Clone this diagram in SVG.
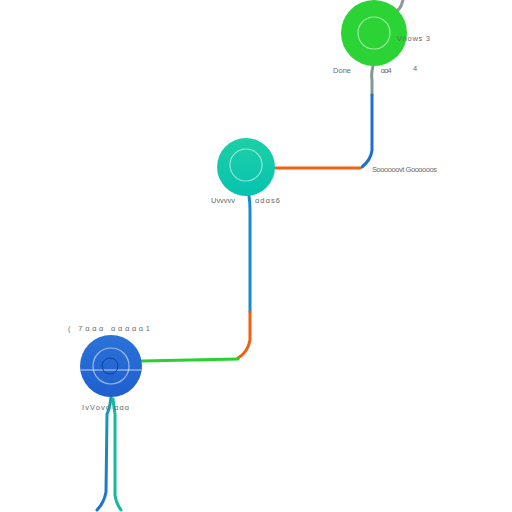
<svg xmlns="http://www.w3.org/2000/svg" width="512" height="512" viewBox="0 0 512 512">
<defs>
<style>
.lbl{font-family:"Liberation Sans",Arial,sans-serif;font-size:7.5px;fill:#6a6a6a}
.ring{fill:none;stroke:#ffffff;stroke-opacity:0.55;stroke-width:1.2}
.c{fill:none;stroke-width:3;stroke-linecap:round;stroke-linejoin:round}
</style>
<linearGradient id="gTeal" x1="0" y1="0" x2="0" y2="1"><stop offset="0" stop-color="#1ecfa6"/><stop offset="1" stop-color="#06c3b0"/></linearGradient>
<linearGradient id="gBlue" x1="0" y1="0" x2="0" y2="1"><stop offset="0" stop-color="#2a72d8"/><stop offset="1" stop-color="#1f5fcf"/></linearGradient>
<linearGradient id="gBot" x1="0" y1="0" x2="0" y2="1"><stop offset="0" stop-color="#17a0b0"/><stop offset="1" stop-color="#1e6fd0"/></linearGradient>
</defs>
<rect width="512" height="512" fill="#ffffff"/>
<g id="connectors">
<path class="c" d="M390 14 Q398 12 401 6 L403 0" stroke="#8a9a98"/>
<path class="c" d="M373 66 Q371 74 372 80 L372 95" stroke="#7f9a94"/>
<path class="c" d="M372 95 L372 150 Q371 160 362 167" stroke="#1f6fd0"/>
<path class="c" d="M360 168 L275 168" stroke="#f06010"/>
<path class="c" d="M249 196 Q250 202 250 210 L250 312" stroke="#1a8ad0"/>
<path class="c" d="M250 312 L250 340 Q248 352 238 358" stroke="#f06010"/>
<path class="c" d="M238 359 L142 361" stroke="#28d030"/>
<path class="c" d="M111 397 Q110 408 107 414 L106 492 Q104 503 97 510" stroke="url(#gBot)"/>
<path class="c" d="M113 399 Q114 408 115 414 L115 495 Q116 503 121 510" stroke="#17b8a0"/>
</g>
<g id="node-green">
<circle cx="374" cy="33" r="33" fill="#2bd335"/>
<circle class="ring" cx="374" cy="33" r="16"/>
<text class="lbl" x="333" y="73" textLength="18">Done</text>
<text class="lbl" x="380" y="73" textLength="11">ɑ͏ɑ4</text>
<text class="lbl" x="413" y="71">4</text>
<text class="lbl" x="397" y="41" textLength="33">Vnows 3</text>
</g>
<g id="node-teal">
<circle cx="246" cy="167" r="29" fill="url(#gTeal)"/>
<circle class="ring" cx="246" cy="165" r="16"/>
<text class="lbl" x="211" y="203" textLength="24">Uvvvvv</text>
<text class="lbl" x="255" y="203" textLength="25">ɑdɑs6</text>
<text class="lbl" x="372" y="172" textLength="65">Soooooovt Goooooos</text>
</g>
<g id="node-blue">
<circle cx="111" cy="366" r="31" fill="url(#gBlue)"/>
<circle class="ring" cx="111" cy="366" r="18" stroke-width="1.5"/>
<path d="M81 370 L141 370" stroke="#ffffff" stroke-opacity="0.7" stroke-width="1.2"/>
<circle cx="110" cy="366" r="8" fill="none" stroke="#0f3fa0" stroke-width="1"/>
<text class="lbl" x="68" y="331" textLength="82">( 7ɑɑɑ  ɑɑɑɑɑ1</text>
<text class="lbl" x="82" y="410" textLength="47">IvVovo  ɑɑɑ</text>
</g>
</svg>
